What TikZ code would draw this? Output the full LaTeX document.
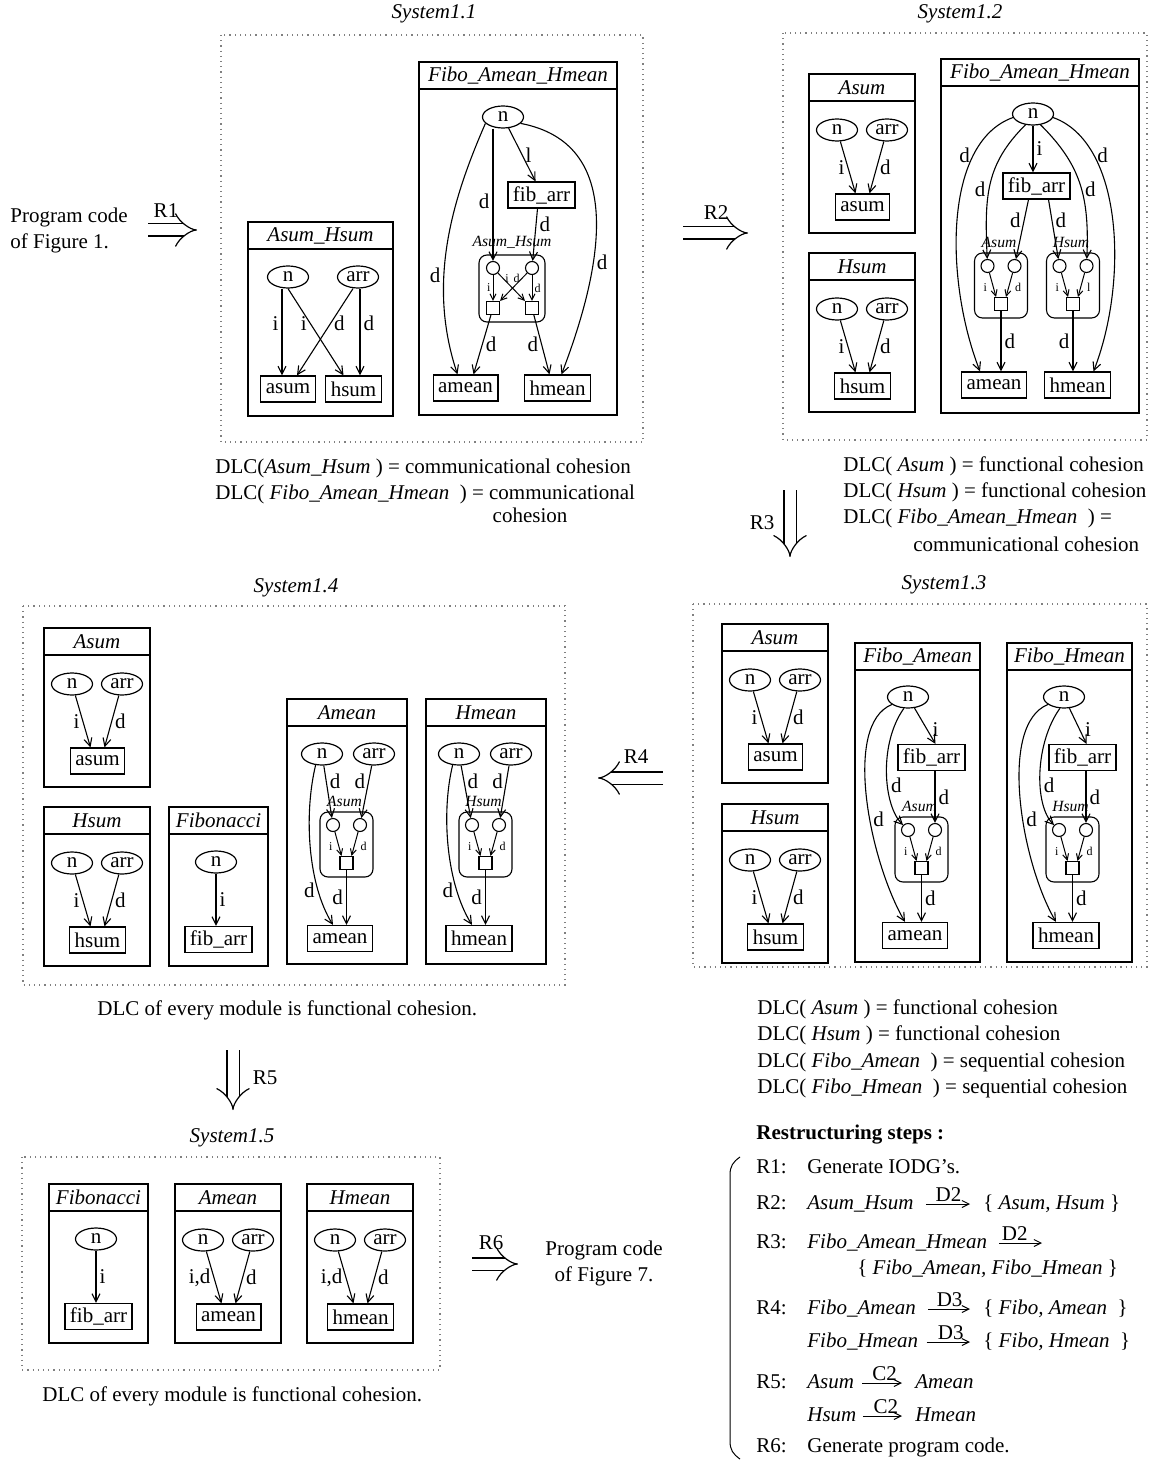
\documentclass[tikz,border=0pt]{standalone}
\usepackage{fontspec}
\setmainfont{Liberation Serif}
\usetikzlibrary{arrows.meta,shapes.geometric}

% module frame with a title strip
\newcommand{\modframe}[6]{%
  \draw[modbox] (#2,#3) rectangle (#4,#5);
  \draw[modbox] (#2,#3+27) -- (#4,#3+27);
  \node[modtitle] (#1t) at ({(#2+#4)/2},#3+13.5) {#6};
}
% module with inputs n, arr and one result
\newcommand{\twomod}[7]{%
  \modframe{#1}{#2}{#3}{#2+106}{#3+159}{#4}
  \node[var] (#1n) at (#2+28,#3+56) {n};
  \node[var] (#1a) at (#2+78,#3+56) {arr};
  \node[res] (#1o) at (#2+53.5,#3+133) {#5};
  \draw[dep] (#1n) -- node[lab,left]{#6} ([xshift=-3.5pt]#1o.north);
  \draw[dep] (#1a) -- node[lab,right]{#7} ([xshift=3.5pt]#1o.north);
}
% Fibonacci module
\newcommand{\onemod}[3]{%
  \modframe{#1}{#2}{#3}{#2+99}{#3+159}{Fibonacci}
  \node[var] (#1n) at (#2+47,#3+55) {n};
  \node[res] (#1o) at (#2+49.5,#3+132.5) {fib\_arr};
  \draw[dep] (#1n) -- node[lab,right]{i} (#1n|-#1o.north);
}
% called module inside a module
\newcommand{\callbox}[6]{%
  \node[callframe] (#1b) at (#2,#3+32.5) {};
  \node[calltitle] (#1t) at (#2-2,#3-11) {#4};
  \node[port] (#1p) at (#2-13.5,#3+13) {};
  \node[port] (#1q) at (#2+13.5,#3+13) {};
  \node[sink] (#1s) at (#2,#3+51) {};
  \draw[sdep] (#1p) -- node[tinylab,left=2pt,pos=0.6]{#5} ([xshift=-2.5pt]#1s.north);
  \draw[sdep] (#1q) -- node[tinylab,right=2pt,pos=0.6]{#6} ([xshift=2.5pt]#1s.north);
}

\begin{document}
\begin{tikzpicture}[x=0.5pt,y=-0.5pt,
  every node/.style={font=\fontsize{10.5}{13}\selectfont},
  sysframe/.style={dotted,gray,line width=0.6pt},
  systitle/.style={font=\fontsize{10.5}{13}\selectfont\itshape},
  modbox/.style={line width=1pt},
  modtitle/.style={font=\fontsize{10.5}{13}\selectfont\itshape,inner sep=0pt},
  var/.style={draw,ellipse,line width=0.6pt,minimum width=20.5pt,minimum height=11pt,inner sep=0pt},
  res/.style={draw,line width=0.6pt,minimum height=13pt,inner xsep=2.5pt,inner ysep=0pt},
  dep/.style={line width=0.55pt,-{Straight Barb[length=4pt,width=4pt]}},
  sdep/.style={line width=0.5pt,-{Straight Barb[length=3pt,width=3pt]}},
  lab/.style={inner sep=1.5pt},
  callframe/.style={draw,rounded corners=4pt,line width=0.55pt,minimum width=26.5pt,minimum height=32.5pt,inner sep=0pt},
  calltitle/.style={font=\fontsize{7.8}{9}\selectfont\itshape,inner sep=0pt},
  tinylab/.style={font=\fontsize{6}{7}\selectfont,inner sep=1pt},
  port/.style={draw,circle,line width=0.55pt,minimum size=6.5pt,inner sep=0pt},
  sink/.style={draw,line width=0.55pt,minimum size=6.5pt,inner sep=0pt},
  impl/.style={double,double distance=5.5pt,line width=0.6pt,-{Implies}},
  txt/.style={inner sep=0pt,anchor=west},
  row/.style={txt,text height=7.5pt,text depth=2.5pt},
  sarr/.style={line width=0.5pt,-{Straight Barb[length=3.5pt,width=3.5pt]},shorten <=6pt,shorten >=6.5pt}
]
\useasboundingbox (0,0) rectangle (1149,1460);

% System1.1
\draw[sysframe] (221,35) rectangle (643,442);
\node[systitle] (sys11) at (434,14) {System1.1};
\modframe{ah}{248}{222}{393}{416}{Asum\_Hsum}
\node[var] (ahn) at (288,277) {n};
\node[var] (aha) at (358,277) {arr};
\node[res] (ahas) at (288,389) {asum};
\node[res] (ahhs) at (353.5,389) {hsum};
\draw[dep] ([xshift=-3pt]ahn.south) -- node[lab,left,pos=0.4]{i} ([xshift=-3pt]ahas.north);
\draw[dep] (ahn.south) -- node[lab,left,pos=0.4]{i} ([xshift=-5pt]ahhs.north);
\draw[dep] ([xshift=-2.5pt]aha.south) -- node[lab,right,pos=0.4]{d} ([xshift=4.5pt]ahas.north);
\draw[dep] ([xshift=1pt]aha.south) -- node[lab,right,pos=0.4]{d} ([xshift=3.25pt]ahhs.north);

\modframe{fah}{419}{62}{617}{415}{Fibo\_Amean\_Hmean}
\node[var] (fahn) at (503,117) {n};
\node[res] (fahfib) at (541.5,195) {fib\_arr};
\node[callframe,minimum width=33pt,minimum height=33.5pt] (fahb) at (512,288.5) {};
\node[calltitle] (faht2) at (512,242) {Asum\_Hsum};
\node[port] (fahc1) at (493,268) {};
\node[port] (fahc2) at (532,268) {};
\node[sink] (fahs1) at (493,308) {};
\node[sink] (fahs2) at (532,308) {};
\node[res] (faham) at (465.5,388) {amean};
\node[res] (fahhm) at (557.5,388) {hmean};
\draw[dep] (fahc1|-fahn.south) -- node[lab,left,pos=0.55]{d} (fahc1);
\draw[dep] (fahn) -- node[lab,right]{l} ([xshift=-3pt]fahfib.north);
\draw[dep] ([xshift=-2pt]fahfib.south) -- node[lab,right,pos=0.3]{d} (fahc2);
\draw[sdep] (fahc1) -- node[tinylab,left]{i} (fahs1);
\draw[sdep] (fahc1) -- node[tinylab,right,pos=0.18]{i} (fahs2.north west);
\draw[sdep] (fahc2) -- node[tinylab,left,pos=0.18]{d} (fahs1.north east);
\draw[sdep] (fahc2) -- node[tinylab,right]{d} (fahs2);
\draw[dep] (fahs1) -- node[lab,right]{d} ([xshift=4pt]faham.north);
\draw[dep] (fahs2) -- node[lab,left]{d} ([xshift=-4pt]fahhm.north);
\draw[dep] (fahn.200) .. controls +(-35,80) and +(-30,-90) .. node[lab,left,pos=0.62]{d} ([xshift=-4pt]faham.north);
\draw[dep] (fahn.-20) .. controls +(105,20) and +(42,-110) .. node[lab,right,pos=0.66]{d} ([xshift=2pt]fahhm.north);

% System1.2
\draw[sysframe] (783,33) rectangle (1147,440);
\node[systitle] (sys12) at (960,14) {System1.2};
\twomod{b2a}{809}{74}{Asum}{asum}{i}{d}
\twomod{b2h}{809}{253}{Hsum}{hsum}{i}{d}
\modframe{b2f}{941}{59}{1139}{413}{Fibo\_Amean\_Hmean}
\node[var] (b2fn) at (1033,114) {n};
\node[res] (b2fib) at (1036.5,186) {fib\_arr};
\callbox{b2x}{1001}{253}{Asum}{i}{d}
\callbox{b2y}{1073}{253}{Hsum}{i}{l}
\node[res] (b2fam) at (994,385) {amean};
\node[res] (b2fhm) at (1077.5,385) {hmean};
\draw[dep] (b2fn.south) -- node[lab,right]{i} (b2fn.south|-b2fib.north);
\draw[dep] (b2fn.235) .. controls +(-40,40) and +(-3,-70) .. node[lab,left,pos=0.55]{d} (b2xp);
\draw[dep] (b2fn.-55) .. controls +(40,40) and +(3,-70) .. node[lab,right,pos=0.55]{d} (b2yq);
\draw[dep] ([xshift=-4pt]b2fib.south) -- node[lab,left,pos=0.35]{d} (b2xq);
\draw[dep] ([xshift=6pt]b2fib.south) -- node[lab,right,pos=0.35]{d} (b2yp);
\draw[dep] (b2xs) -- node[lab,right]{d} (b2xs|-b2fam.north);
\draw[dep] (b2ys) -- node[lab,left]{d} (b2ys|-b2fhm.north);
\draw[dep] (b2fn.190) .. controls +(-70,25) and +(-35,-90) .. node[lab,left,pos=0.25]{d} ([xshift=-7pt]b2fam.north);
\draw[dep] (b2fn.-10) .. controls +(70,25) and +(35,-90) .. node[lab,right,pos=0.25]{d} ([xshift=8pt]b2fhm.north);

% System1.3
\draw[sysframe] (693,604) rectangle (1147,967);
\node[systitle] (sys13) at (944,585) {System1.3};
\twomod{c3a}{722}{624}{Asum}{asum}{i}{d}
\twomod{c3h}{722}{804}{Hsum}{hsum}{i}{d}
\modframe{c3f}{855}{643}{980}{962}{Fibo\_Amean}
\node[var] (c3fn) at (908,697) {n};
\node[res] (c3ffib) at (931.5,757.5) {fib\_arr};
\callbox{c3fx}{921.5}{817}{Asum}{i}{d}
\node[res] (c3fo) at (915,935.5) {amean};
\draw[dep] (c3fn) -- node[lab,right=1pt,pos=0.6]{i} ([xshift=2pt]c3ffib.north);
\draw[dep] (c3fxq|-c3ffib.south) -- node[lab,right]{d} (c3fxq);
\draw[dep] (c3fn.250) .. controls +(-25,35) and +(-25,-25) .. node[lab,right,pos=0.6]{d} (c3fxp);
\draw[dep] (c3fxs) -- node[lab,right]{d} (c3fxs|-c3fo.north);
\draw[dep] (c3fn.205) .. controls +(-50,20) and +(-35,-60) .. node[lab,right,pos=0.58]{d} ([xshift=-5pt]c3fo.north);
\modframe{c3g}{1007}{643}{1132}{962}{Fibo\_Hmean}
\node[var] (c3gn) at (1064,697) {n};
\node[res] (c3gfib) at (1082.5,757.5) {fib\_arr};
\callbox{c3gx}{1072.5}{817}{Hsum}{i}{d}
\node[res] (c3go) at (1066,935.5) {hmean};
\draw[dep] (c3gn) -- node[lab,right=1pt,pos=0.6]{i} ([xshift=2pt]c3gfib.north);
\draw[dep] (c3gxq|-c3gfib.south) -- node[lab,right]{d} (c3gxq);
\draw[dep] (c3gn.250) .. controls +(-25,35) and +(-25,-25) .. node[lab,right,pos=0.6]{d} (c3gxp);
\draw[dep] (c3gxs) -- node[lab,right]{d} (c3gxs|-c3go.north);
\draw[dep] (c3gn.205) .. controls +(-50,20) and +(-35,-60) .. node[lab,right,pos=0.58]{d} ([xshift=-5pt]c3go.north);

% System1.4
\draw[sysframe] (23,606) rectangle (565,985);
\node[systitle] (sys14) at (296,588) {System1.4};
\twomod{d4a}{44}{628}{Asum}{asum}{i}{d}
\twomod{d4h}{44}{807}{Hsum}{hsum}{i}{d}
\onemod{d4f}{169}{807}
\modframe{d4m}{287}{699}{407}{964}{Amean}
\node[var] (d4mn) at (322,754) {n};
\node[var] (d4ma) at (374,754) {arr};
\callbox{d4mx}{346.5}{812}{Asum}{i}{d}
\node[res] (d4mo) at (340,938.5) {amean};
\draw[dep] (d4mn) -- node[lab,right,pos=0.3]{d} (d4mxp);
\draw[dep] (d4ma) -- node[lab,left,pos=0.3]{d} (d4mxq);
\draw[dep] (d4mxs) -- node[lab,left]{d} (d4mxs|-d4mo.north);
\draw[dep] (d4mn.240) .. controls +(-12,50) and +(-25,-40) .. node[lab,left,pos=0.75]{d} ([xshift=-3.5pt]d4mo.north);
\modframe{d4h2}{426}{699}{546}{964}{Hmean}
\node[var] (d4hn) at (459,754) {n};
\node[var] (d4ha) at (511,754) {arr};
\callbox{d4hx}{485.5}{812}{Hsum}{i}{d}
\node[res] (d4ho) at (479,938.5) {hmean};
\draw[dep] (d4hn) -- node[lab,right,pos=0.3]{d} (d4hxp);
\draw[dep] (d4ha) -- node[lab,left,pos=0.3]{d} (d4hxq);
\draw[dep] (d4hxs) -- node[lab,left]{d} (d4hxs|-d4ho.north);
\draw[dep] (d4hn.240) .. controls +(-12,50) and +(-25,-40) .. node[lab,left,pos=0.75]{d} ([xshift=-3.5pt]d4ho.north);

% System1.5
\draw[sysframe] (22,1157) rectangle (440,1370);
\node[systitle] (sys15) at (232,1138) {System1.5};
\onemod{e5f}{49}{1184}
\twomod{e5a}{175}{1184}{Amean}{amean}{i,d}{d}
\twomod{e5h}{307}{1184}{Hmean}{hmean}{i,d}{d}

% restructuring arrows
\node[txt,align=left] (prog1) at (10,230) {Program code\\of Figure 1.};
\coordinate (r1s) at (148,230); \coordinate (r1e) at (197,230);
\draw[impl] (r1s) -- (r1e);
\node (r1l) at (166,211) {R1};
\coordinate (r2s) at (683,233); \coordinate (r2e) at (748,233);
\draw[impl] (r2s) -- (r2e);
\node (r2l) at (716,213) {R2};
\coordinate (r3s) at (790,490); \coordinate (r3e) at (790,557);
\draw[impl] (r3s) -- (r3e);
\node (r3l) at (762,523) {R3};
\coordinate (r4s) at (663,778); \coordinate (r4e) at (598,778);
\draw[impl] (r4s) -- (r4e);
\node (r4l) at (636,757) {R4};
\coordinate (r5s) at (233,1050); \coordinate (r5e) at (233,1110);
\draw[impl] (r5s) -- (r5e);
\node (r5l) at (265,1078) {R5};
\coordinate (r6s) at (472,1264); \coordinate (r6e) at (518,1264);
\draw[impl] (r6s) -- (r6e);
\node (r6l) at (491,1243) {R6};
\node[align=center] (prog7) at (604,1263) {Program code\\of Figure 7.};

% cohesion notes
\node[txt] (dlc11a) at (215,468) {DLC(\textit{Asum\_Hsum} ) = communicational cohesion};
\node[txt] (dlc11b) at (215,494) {DLC( \textit{Fibo\_Amean\_Hmean} \ ) = communicational};
\node[inner sep=0pt] (dlc11c) at (530,515) {cohesion};
\node[txt] (dlc12a) at (843,466) {DLC( \textit{Asum} ) = functional cohesion};
\node[txt] (dlc12b) at (843,492) {DLC( \textit{Hsum} ) = functional cohesion};
\node[txt] (dlc12c) at (843,518) {DLC( \textit{Fibo\_Amean\_Hmean} \ ) =};
\node[txt] (dlc12d) at (913,544) {communicational cohesion};
\node[txt] (dlc13a) at (757,1009) {DLC( \textit{Asum} ) = functional cohesion};
\node[txt] (dlc13b) at (757,1035) {DLC( \textit{Hsum} ) = functional cohesion};
\node[txt] (dlc13c) at (757,1062) {DLC( \textit{Fibo\_Amean} \ ) = sequential cohesion};
\node[txt] (dlc13d) at (757,1088) {DLC( \textit{Fibo\_Hmean} \ ) = sequential cohesion};
\node[txt] (dlc14) at (97,1010) {DLC of every module is functional cohesion.};
\node[txt] (dlc15) at (42,1396) {DLC of every module is functional cohesion.};

% restructuring steps
\node[txt,font=\fontsize{10.5}{13}\selectfont\bfseries] (steps) at (756,1135) {Restructuring steps :};
\draw[line width=0.5pt] (740,1157) .. controls (733,1162) and (730,1166) .. (730,1175) -- (730,1441) .. controls (730,1450) and (733,1454) .. (740,1459);
\node[row] (st1) at (756,1168) {R1:};
\node[row] (st1a) at (807,1168) {Generate IODG’s.};
\node[row] (st2) at (756,1204) {R2:};
\node[row] (st2a) at (807,1204) {\textit{Asum\_Hsum}};
\node[row] (st2b) at (983,1204) {\{ \textit{Asum, Hsum} \}};
\draw[sarr] (st2a.east) -- node[above,inner sep=1pt]{D2} (st2b.west);
\node[row] (st3) at (756,1243) {R3:};
\node[row] (st3a) at (807,1243) {\textit{Fibo\_Amean\_Hmean}};
\coordinate (st3e) at (1042,1243);
\draw[sarr,shorten >=0pt] (st3a.east) -- node[above,inner sep=1pt]{D2} (st3e);
\node[row] (st3b) at (857,1269) {\{ \textit{Fibo\_Amean, Fibo\_Hmean} \}};
\node[row] (st4) at (756,1309) {R4:};
\node[row] (st4a) at (807,1309) {\textit{Fibo\_Amean}};
\node[row] (st4b) at (983,1309) {\{ \textit{Fibo, Amean} \ \}};
\draw[sarr] (st4a.east) -- node[above,inner sep=1pt]{D3} (st4b.west);
\node[row] (st4c) at (807,1342) {\textit{Fibo\_Hmean}};
\node[row] (st4d) at (983,1342) {\{ \textit{Fibo, Hmean} \ \}};
\draw[sarr,shorten <=4pt] (st4c.east) -- node[above,inner sep=1pt]{D3} (st4d.west);
\node[row] (st5) at (756,1383) {R5:};
\node[row] (st5a) at (807,1383) {\textit{Asum}};
\node[row] (st5b) at (915,1383) {\textit{Amean}};
\draw[sarr,shorten <=4pt] (st5a.east) -- node[above,inner sep=1pt]{C2} (st5b.west);
\node[row] (st5c) at (807,1416) {\textit{Hsum}};
\node[row] (st5d) at (915,1416) {\textit{Hmean}};
\draw[sarr,shorten <=3pt] (st5c.east) -- node[above,inner sep=1pt]{C2} (st5d.west);
\node[row] (st6) at (756,1447) {R6:};
\node[row] (st6a) at (807,1447) {Generate program code.};
\end{tikzpicture}
\end{document}
